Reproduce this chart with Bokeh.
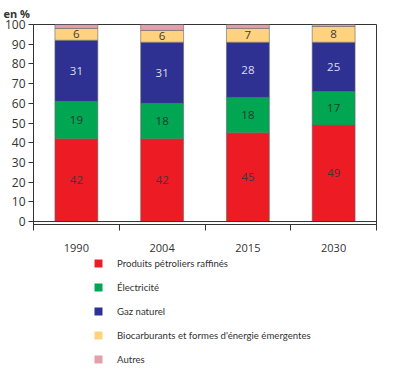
from bokeh.plotting import figure
from bokeh.layouts import column
from bokeh.models import Range1d, FixedTicker, Title, Legend, LegendItem, Span, ColumnDataSource
from bokeh.embed import file_html
from bokeh.resources import INLINE
from bokeh.core.properties import value

years = ["1990", "2004", "2015", "2030"]
petrole = [42, 42, 45, 49]
electricite = [19, 18, 18, 17]
gaz = [31, 31, 28, 25]
bio = [6, 6, 7, 8]
autres = [2, 3, 2, 1]
y_ticks = [0, 10, 20, 30, 40, 50, 60, 70, 80, 90, 100]

series_keys = ["petrole", "electricite", "gaz", "bio", "autres"]
series_names = ["Produits pétroliers raffinés", "Électricité", "Gaz naturel",
                "Biocarburants et formes d'énergie émergentes", "Autres"]
colors = ["#ED1C24", "#00A651", "#2E3192", "#FFD27F", "#E3A0A8"]
label_colors = ["#3a3a3a", "#1e3b2c", "#dcdcec", "#3a3a3a"]
FONT = "Open Sans"
LEG_FONT = "Lato"

xs = [i + 0.5 for i in range(len(years))]
data = dict(x=xs, petrole=petrole, electricite=electricite, gaz=gaz, bio=bio, autres=autres)
src = ColumnDataSource(data)

p = figure(width=384, height=254, x_range=Range1d(0, 4), y_range=Range1d(-1.5, 100),
           output_backend="svg", toolbar_location=None,
           min_border_left=33, min_border_right=8, min_border_top=22, min_border_bottom=28)
p.grid.visible = False
p.outline_line_color = "#333333"
p.outline_line_width = 1

renderers = p.vbar_stack(series_keys, x="x", width=0.5, source=src,
                         fill_color=colors, line_color="#666666", line_width=0.6)

# value labels
series_vals = [petrole, electricite, gaz, bio]
bottoms = [0] * len(years)
for k, vals in enumerate(series_vals):
    mids = [b + v / 2 for b, v in zip(bottoms, vals)]
    p.text(x=xs, y=mids, text=[str(v) for v in vals], text_align="center",
           text_baseline="middle", text_color=label_colors[k],
           text_font=value(FONT), text_font_size="11.5px")
    bottoms = [b + v for b, v in zip(bottoms, vals)]

p.add_layout(Span(location=0, dimension="width", line_color="#333333", line_width=1))

# y axis
ya = p.yaxis[0]
ya.ticker = FixedTicker(ticks=y_ticks)
ya.major_tick_out = 5
ya.major_tick_in = 0
ya.minor_tick_out = 0
ya.minor_tick_in = 0
ya.axis_line_color = "#333333"
ya.major_tick_line_color = "#333333"
ya.major_label_standoff = 3
ya.major_label_text_font = FONT
ya.major_label_text_font_size = "12px"
ya.major_label_text_color = "#333333"

# x axis
xa = p.xaxis[0]
xa.ticker = FixedTicker(ticks=xs, minor_ticks=[0, 1, 2, 3, 4])
xa.major_label_overrides = {x: y for x, y in zip(xs, years)}
xa.major_tick_out = 0
xa.major_tick_in = 0
xa.minor_tick_out = 6
xa.minor_tick_in = 0
xa.axis_line_color = "#333333"
xa.minor_tick_line_color = "#333333"
xa.major_label_standoff = 13
xa.major_label_text_font = FONT
xa.major_label_text_font_size = "11px"
xa.major_label_text_color = "#333333"

p.add_layout(Title(text="en %", align="left", offset=-30, standoff=7, text_font=FONT,
                   text_font_size="11px", text_font_style="bold", text_color="#333333"), "above")

# legend figure (frame aligned with the chart's frame by the column layout)
pl = figure(width=384, height=112, x_range=Range1d(0, 1), y_range=Range1d(0, 1),
            output_backend="svg", toolbar_location=None,
            x_axis_location=None, y_axis_location=None, min_border=0)
pl.grid.visible = False
pl.outline_line_color = None
# swatch renderers: zero-height, outline-free bars, so only the legend shows their colours
leg_renderers = [pl.vbar(x=[0.5], bottom=[0.5], top=[0.5], width=0.5, fill_color=c, line_color=None)
                 for c in colors]
legend = Legend(items=[LegendItem(label=n, renderers=[r]) for n, r in zip(series_names, leg_renderers)],
                location=(60, 0), orientation="vertical", glyph_width=10, glyph_height=10,
                label_standoff=14, spacing=10, padding=0, margin=0, border_line_color=None,
                background_fill_alpha=0, label_text_font=LEG_FONT, label_text_font_size="9.6px",
                label_text_color="#333333", label_height=14)
pl.add_layout(legend)

layout = column(p, pl, spacing=0)
open("out.html", "w").write(file_html(layout, INLINE))
